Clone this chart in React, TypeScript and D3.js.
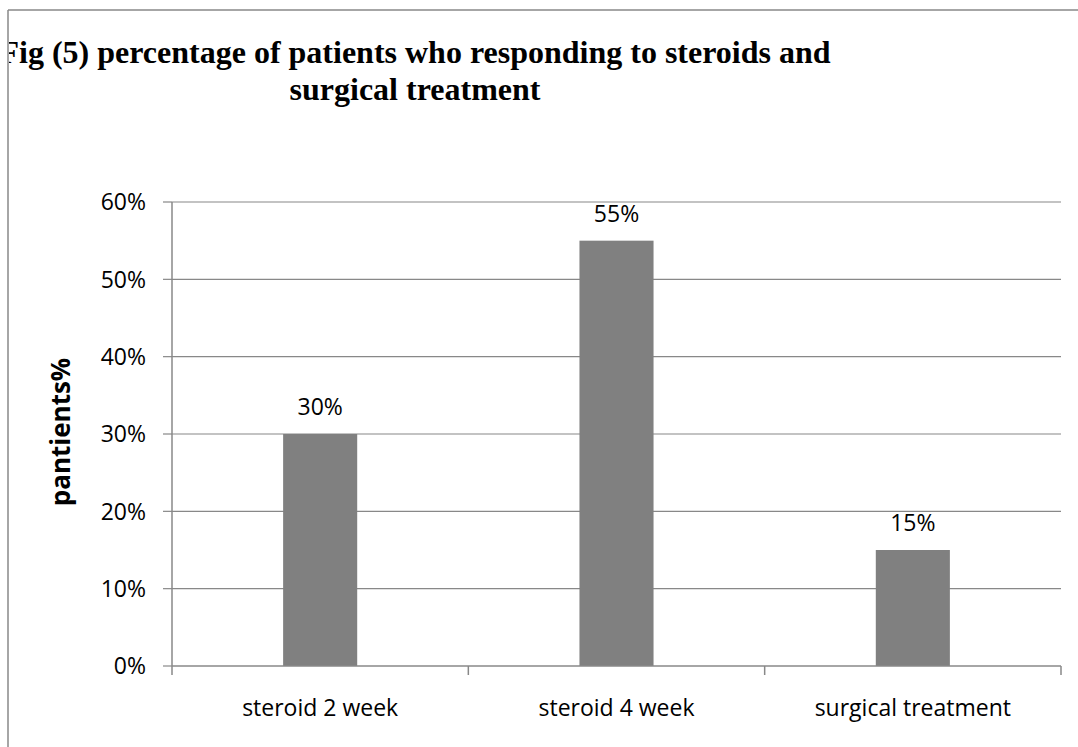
import React from "react";
import * as d3 from "d3";

// Chart content
const titleLines = [
  "Fig (5) percentage of patients who responding to steroids and",
  "surgical treatment",
];
const categories = ["steroid 2 week", "steroid 4 week", "surgical treatment"];
const values = [30, 55, 15];
const yTicks = [0, 10, 20, 30, 40, 50, 60];
const yAxisTitle = "pantients%";

const W = 1078;
const H = 747;

export default function App() {
  const plot = { left: 172, right: 1061, top: 202, bottom: 666 };

  const x = d3
    .scaleBand<string>()
    .domain(categories)
    .range([plot.left, plot.right])
    .paddingInner(0.75)
    .paddingOuter(0.375);

  const xOuter = d3
    .scaleBand<string>()
    .domain(categories)
    .range([plot.left, plot.right])
    .padding(0);

  const y = d3.scaleLinear().domain([0, 60]).range([plot.bottom, plot.top]);

  const grey = "#888888";
  const labelFont = "'Open Sans', 'DejaVu Sans', sans-serif";

  const catEdges = [plot.left, ...categories.map((c) => (xOuter(c) as number) + xOuter.bandwidth())];

  return (
    <svg
      width={W}
      height={H}
      style={{ position: "absolute", left: 0, top: 0, background: "#fff" }}
    >
      <defs>
        <clipPath id="frameClip">
          <rect x={9} y={11} width={W} height={H} />
        </clipPath>
      </defs>

      {/* frame */}
      <line x1={8} x2={W} y1={10} y2={10} stroke={grey} strokeWidth={1.5} />
      <line x1={8} x2={8} y1={10} y2={H} stroke={grey} strokeWidth={1.5} />

      {/* title */}
      <g clipPath="url(#frameClip)">
        {titleLines.map((t, i) => (
          <text
            key={i}
            x={415}
            y={63 + i * 37}
            textAnchor="middle"
            fontFamily="'Liberation Serif', 'Times New Roman', serif"
            fontWeight="bold"
            fontSize={32}
            fill="#000"
          >
            {t}
          </text>
        ))}
      </g>

      {/* gridlines */}
      {yTicks
        .filter((v) => v > 0)
        .map((v) => (
          <line
            key={v}
            x1={plot.left}
            x2={plot.right}
            y1={y(v)}
            y2={y(v)}
            stroke={grey}
            strokeWidth={1.2}
          />
        ))}

      {/* bars */}
      {categories.map((c, i) => (
        <rect
          key={c}
          x={x(c)}
          y={y(values[i])}
          width={x.bandwidth()}
          height={plot.bottom - y(values[i])}
          fill="#808080"
        />
      ))}

      {/* value labels */}
      {categories.map((c, i) => (
        <text
          key={c}
          x={(x(c) as number) + x.bandwidth() / 2}
          y={y(values[i]) - 19}
          textAnchor="middle"
          fontFamily={labelFont}
          fontSize={23}
          fill="#000"
        >
          {values[i]}%
        </text>
      ))}

      {/* y axis */}
      <line x1={plot.left} x2={plot.left} y1={plot.top} y2={plot.bottom} stroke={grey} strokeWidth={1.5} />
      {yTicks.map((v) => (
        <g key={v}>
          <line x1={plot.left - 9} x2={plot.left} y1={y(v)} y2={y(v)} stroke={grey} strokeWidth={1.2} />
          <text
            x={146}
            y={y(v)}
            dy="0.36em"
            textAnchor="end"
            fontFamily={labelFont}
            fontSize={23}
            fill="#000"
          >
            {v}%
          </text>
        </g>
      ))}

      {/* x axis */}
      <line x1={plot.left} x2={plot.right} y1={plot.bottom} y2={plot.bottom} stroke={grey} strokeWidth={1.5} />
      {catEdges.map((ex, i) => (
        <line key={i} x1={ex} x2={ex} y1={plot.bottom} y2={plot.bottom + 9} stroke={grey} strokeWidth={1.5} />
      ))}
      {categories.map((c) => (
        <text
          key={c}
          x={(xOuter(c) as number) + xOuter.bandwidth() / 2}
          y={716}
          textAnchor="middle"
          fontFamily={labelFont}
          fontSize={23}
          fill="#000"
        >
          {c}
        </text>
      ))}

      {/* y axis title */}
      <text
        transform={`translate(70, 432) rotate(-90)`}
        textAnchor="middle"
        fontFamily={labelFont}
        fontWeight="bold"
        fontSize={26}
        fill="#000"
      >
        {yAxisTitle}
      </text>
    </svg>
  );
}
